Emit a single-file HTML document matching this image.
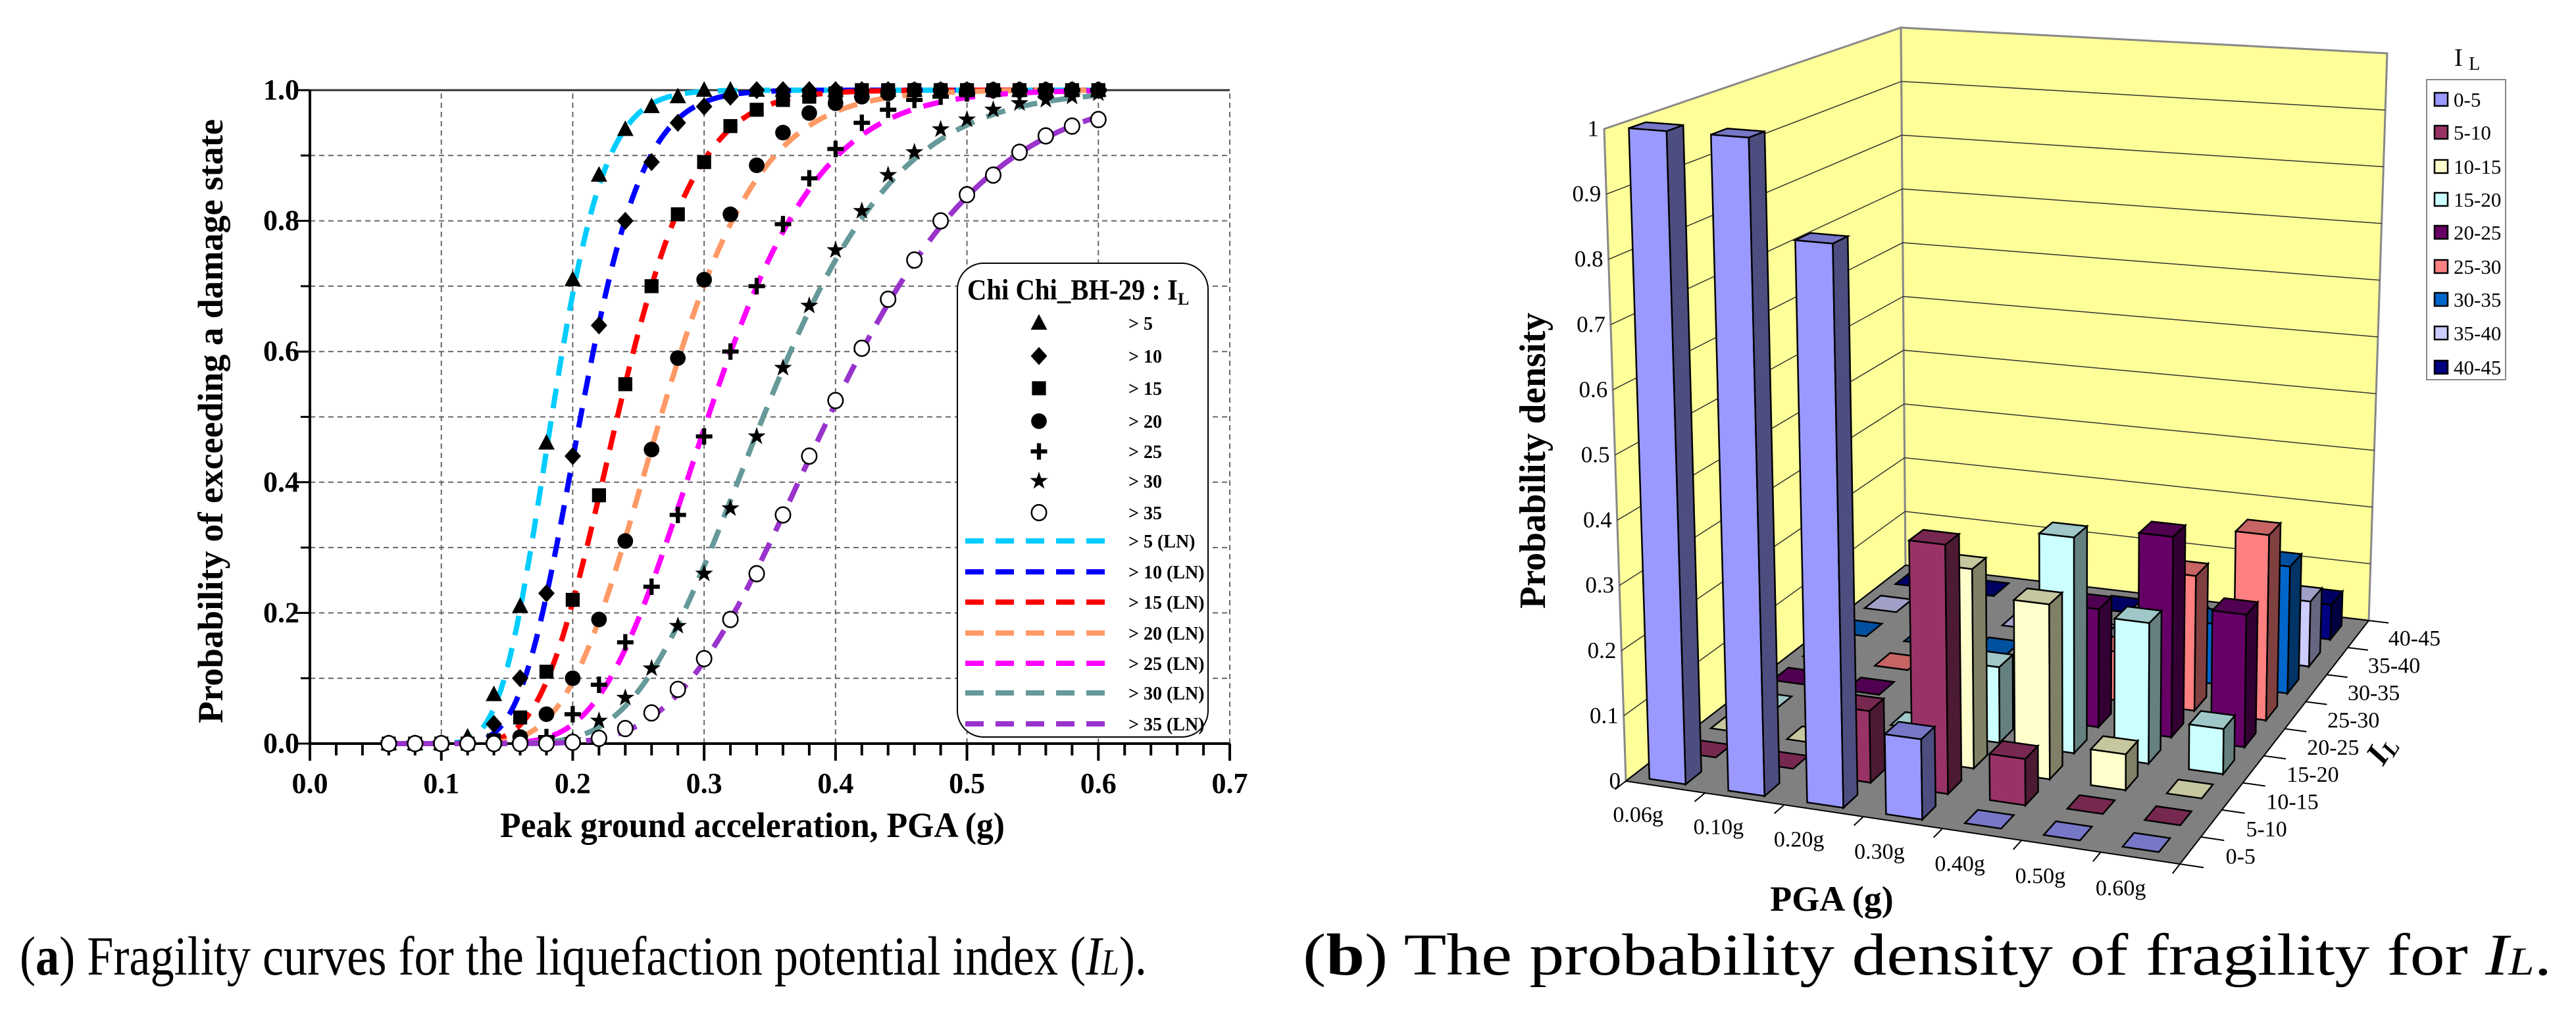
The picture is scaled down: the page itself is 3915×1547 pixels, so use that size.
<!DOCTYPE html>
<html><head><meta charset="utf-8"><style>
html,body{margin:0;padding:0;background:#fff;}
svg{display:block;}
text{font-family:"Liberation Serif",serif;}
</style></head>
<body>
<svg id="fig" width="3915" height="1547" viewBox="0 0 3915 1547" xmlns="http://www.w3.org/2000/svg">
  <g id="left"></g>
  <g id="right"></g>
  <text x="30" y="1481" font-size="84" textLength="1713" lengthAdjust="spacingAndGlyphs">(<tspan font-weight="bold">a</tspan>) Fragility curves for the liquefaction potential index (<tspan font-style="italic">I</tspan><tspan font-style="italic" font-size="56">L</tspan>).</text>
  <text x="1980" y="1481" font-size="90" textLength="1898" lengthAdjust="spacingAndGlyphs">(<tspan font-weight="bold">b</tspan>) The probability density of fragility for <tspan font-style="italic">I</tspan><tspan font-style="italic" font-size="60">L</tspan>.</text>
</svg>
<script>
// ===== Left chart data =====
const pgaPts = [0.06,0.08,0.10,0.12,0.14,0.16,0.18,0.20,0.22,0.24,0.26,0.28,0.30,0.32,0.34,0.36,0.38,0.40,0.42,0.44,0.46,0.48,0.50,0.52,0.54,0.56,0.58,0.60];
const s5  = [0,0,0,0.01,0.075,0.21,0.46,0.71,0.87,0.94,0.975,0.99,1,1,1,1,1,1,1,1,1,1,1,1,1,1,1,1];
const s10 = [0,0,0,0,0.03,0.10,0.23,0.44,0.64,0.80,0.89,0.95,0.975,0.99,1,1,1,1,1,1,1,1,1,1,1,1,1,1];
const s15 = [0,0,0,0,0.005,0.04,0.11,0.22,0.38,0.55,0.70,0.81,0.89,0.945,0.97,0.985,0.99,0.995,1,1,1,1,1,1,1,1,1,1];
const s20 = [0,0,0,0,0,0.01,0.045,0.10,0.19,0.31,0.45,0.59,0.71,0.81,0.885,0.935,0.965,0.98,0.99,0.995,1,1,1,1,1,1,1,1];
const s25 = [0,0,0,0,0,0,0.01,0.045,0.09,0.155,0.24,0.35,0.47,0.60,0.70,0.795,0.865,0.91,0.95,0.97,0.985,0.99,0.995,1,1,1,1,1];
const s30 = [0,0,0,0,0,0,0,0.005,0.035,0.07,0.115,0.18,0.26,0.36,0.47,0.575,0.67,0.755,0.815,0.87,0.905,0.94,0.955,0.97,0.98,0.985,0.99,0.995];
const s35 = [0,0,0,0,0,0,0,0.002,0.008,0.023,0.047,0.083,0.13,0.19,0.26,0.35,0.44,0.525,0.605,0.68,0.74,0.80,0.84,0.87,0.905,0.93,0.945,0.955];
const lnMedian = [0.184,0.206,0.234,0.267,0.303,0.345,0.395];
const lnBeta   = [0.17,0.18,0.20,0.22,0.22,0.23,0.24];
const seriesNames = ['> 5','> 10','> 15','> 20','> 25','> 30','> 35'];
const xTicks = [0.0,0.1,0.2,0.3,0.4,0.5,0.6,0.7];
const yTicks = [0.0,0.2,0.4,0.6,0.8,1.0];

// ===== Right chart data =====
const pgaCats = ['0.06g','0.10g','0.20g','0.30g','0.40g','0.50g','0.60g'];
const ilCats = ['0-5','5-10','10-15','15-20','20-25','25-30','30-35','35-40','40-45'];
const d0_5   = [1.0,1.0,0.85,0.12,0,0,0];
const d5_10  = [0,0,0.11,0.38,0.07,0,0];
const d10_15 = [0,0,0,0.31,0.27,0.055,0];
const d15_20 = [0,0,0,0.12,0.34,0.22,0.07];
const d20_25 = [0,0,0,0,0.19,0.32,0.21];
const d25_30 = [0,0,0,0,0.08,0.22,0.30];
const d30_35 = [0,0,0,0,0,0.10,0.21];
const d35_40 = [0,0,0,0,0,0,0.11];
const d40_45 = [0,0,0,0,0,0,0.06];
const densTicks = [0,0.1,0.2,0.3,0.4,0.5,0.6,0.7,0.8,0.9,1];

const NS='http://www.w3.org/2000/svg';
function mk(parent,tag,attrs,txt){const e=document.createElementNS(NS,tag);for(const k in attrs)e.setAttribute(k,attrs[k]);if(txt!==undefined)e.textContent=txt;parent.appendChild(e);return e;}

// ===== Left chart =====
(function(){
const g=document.getElementById('left');
const X0=471,X1=1869,Y0=1130,Y1=137;
const px=v=>X0+v/0.7*(X1-X0);
const py=p=>Y0-p*(Y0-Y1);
for(let i=1;i<=7;i++){const l=mk(g,'line',{x1:px(i/10),x2:px(i/10),y1:Y0,y2:Y1,stroke:'#666','stroke-width':2,'stroke-dasharray':'8 6'});

}
for(let i=1;i<=10;i++){const l=mk(g,'line',{x1:X0,x2:X1,y1:py(i/10),y2:py(i/10),stroke:i==10?'#333':'#666','stroke-width':i==10?3:2,'stroke-dasharray':i==10?'none':'8 6'});

}
const ax=mk(g,'line',{x1:X0,x2:X1,y1:Y0,y2:Y0,stroke:'#000','stroke-width':4});


const ay=mk(g,'line',{x1:X0,x2:X0,y1:Y0,y2:Y1,stroke:'#000','stroke-width':4});


for(let i=0;i<=35;i++){const v=i*0.02;const major=(i%5==0);const t=mk(g,'line',{x1:px(v),x2:px(v),y1:Y0,y2:Y0+(major?26:18),stroke:'#000','stroke-width':4});

}
for(let i=0;i<=10;i++){const t=mk(g,'line',{x1:X0-(i%2==0?22:14),x2:X0,y1:py(i/10),y2:py(i/10),stroke:'#000','stroke-width':3});

}
xTicks.forEach(v=>{const t=mk(g,'text',{x:px(v),y:1205,'font-size':44,'font-weight':'bold','text-anchor':'middle'},v.toFixed(1));

});
yTicks.forEach(v=>{const t=mk(g,'text',{x:455,y:py(v)+14,'font-size':44,'font-weight':'bold','text-anchor':'end'},v.toFixed(1));

});
const xt=mk(g,'text',{x:760,y:1272,'font-size':54,'font-weight':'bold',textLength:767,lengthAdjust:'spacingAndGlyphs'},'Peak ground acceleration, PGA (g)');


const yt=mk(g,'text',{x:0,y:0,'font-size':54,'font-weight':'bold',textLength:918,lengthAdjust:'spacingAndGlyphs',transform:'translate(338,1099) rotate(-90)'},'Probability of exceeding a damage state');



const colors=['#00ccff','#0000ff','#ff0000','#ff9966','#ff00ff','#669999','#9933cc'];
function erf(x){const s=x<0?-1:1;x=Math.abs(x);const t=1/(1+0.3275911*x);const y=1-(((((1.061405429*t-1.453152027)*t)+1.421413741)*t-0.284496736)*t+0.254829592)*t*Math.exp(-x*x);return s*y;}
const Phi=z=>0.5*(1+erf(z/Math.SQRT2));
for(let s=0;s<7;s++){let d='';for(let x=0.06;x<=0.6001;x+=0.0025){const p=Phi(Math.log(x/lnMedian[s])/lnBeta[s]);d+=(d?'L':'M')+px(x).toFixed(1)+','+py(p).toFixed(1);}
const c=mk(g,'path',{d:d,fill:'none',stroke:colors[s],'stroke-width':8,'stroke-dasharray':'30 20'});

}
function marker(parent,type,x,y,r){
  switch(type){
   case 0:return mk(parent,'path',{d:`M${x},${y-r*1.1}L${x+r},${y+r*0.8}L${x-r},${y+r*0.8}Z`,fill:'#000'});
   case 1:return mk(parent,'path',{d:`M${x},${y-r*1.1}L${x+r},${y}L${x},${y+r*1.1}L${x-r},${y}Z`,fill:'#000'});
   case 2:return mk(parent,'rect',{x:x-r*0.85,y:y-r*0.85,width:r*1.7,height:r*1.7,fill:'#000'});
   case 3:return mk(parent,'ellipse',{cx:x,cy:y,rx:r*0.95,ry:r*0.95,fill:'#000'});
   case 4:return mk(parent,'path',{d:`M${x-r},${y}H${x+r}M${x},${y-r}V${y+r}`,stroke:'#000','stroke-width':r*0.5,fill:'none'});
   case 5:{let d='';for(let k=0;k<10;k++){const a=-Math.PI/2+k*Math.PI/5;const rr=k%2?r*0.45:r*1.15;d+=(k?'L':'M')+(x+rr*Math.cos(a)).toFixed(1)+','+(y+rr*Math.sin(a)).toFixed(1);}return mk(parent,'path',{d:d+'Z',fill:'#000'});}
   case 6:return mk(parent,'ellipse',{cx:x,cy:y,rx:r*0.9,ry:r*0.95,fill:'#fff',stroke:'#000','stroke-width':2.5});
  }
}
const allS=[s5,s10,s15,s20,s25,s30,s35];
for(let s=0;s<7;s++){allS[s].forEach((p,i)=>{const m=marker(g,s,px(pgaPts[i]),py(p),12.5);

});}
const lg=mk(g,'g',{});


mk(lg,'rect',{x:1455,y:400,width:381,height:720,rx:40,ry:40,fill:'#fff',stroke:'#000','stroke-width':2});
const lt=mk(lg,'text',{x:1470,y:455,'font-size':44,'font-weight':'bold'});


mk(lt,'tspan',{textLength:320,lengthAdjust:'spacingAndGlyphs'},'Chi Chi_BH-29 :  I');
mk(lt,'tspan',{'font-size':26,dy:8},'L');
const mRows=[491,541,590,640,686,731,779], lRows=[822,869,915,962,1008,1053,1100];
for(let s=0;s<7;s++){const m=marker(lg,s,1579,mRows[s],12.5);


const t=mk(lg,'text',{x:1715,y:mRows[s]+10,'font-size':28,'font-weight':'bold'},seriesNames[s]);


const l=mk(lg,'line',{x1:1467,x2:1685,y1:lRows[s],y2:lRows[s],stroke:colors[s],'stroke-width':8,'stroke-dasharray':'28 18'});


const t2=mk(lg,'text',{x:1715,y:lRows[s]+10,'font-size':28,'font-weight':'bold'},seriesNames[s]+' (LN)');

}
})();

// ===== Right chart =====
(function(){
const g=document.getElementById('right');
const FL=[2471,1187],FR=[3313,1313],BL=[2896,859],BR=[3600,943];
const TFL=[2438,196],TFR=[3315,265],TBL=[2889,42],TBR=[3628,81];
const NX=7,NZ=9;
function bil(A,B,C,D,u,v){return [(1-u)*(1-v)*A[0]+u*(1-v)*B[0]+(1-u)*v*C[0]+u*v*D[0],(1-u)*(1-v)*A[1]+u*(1-v)*B[1]+(1-u)*v*C[1]+u*v*D[1]];}
function P(x,z,h){const u=x/NX,v=z/NZ;const b=bil(FL,FR,BL,BR,u,v),t=bil(TFL,TFR,TBL,TBR,u,v);return [b[0]+h*(t[0]-b[0]),b[1]+h*(t[1]-b[1])];}
const pts=a=>a.map(p=>p[0].toFixed(1)+','+p[1].toFixed(1)).join(' ');
const lw=mk(g,'polygon',{points:pts([P(0,0,0),P(0,NZ,0),P(0,NZ,1),P(0,0,1)]),fill:'#ffff99',stroke:'#888','stroke-width':3});


const bw=mk(g,'polygon',{points:pts([P(0,NZ,0),P(NX,NZ,0),P(NX,NZ,1),P(0,NZ,1)]),fill:'#ffff99',stroke:'#888','stroke-width':3});


densTicks.forEach(v=>{if(v>0&&v<1){const a=P(0,0,v),b=P(0,NZ,v),c=P(NX,NZ,v);
const l=mk(g,'polyline',{points:pts([a,b,c]),fill:'none',stroke:'#333','stroke-width':1.5});

}
const p=P(0,0,v);const t=mk(g,'text',{x:p[0]-8,y:p[1]+11,'font-size':35,'text-anchor':'end'},String(v));

});
const fl=mk(g,'polygon',{points:pts([FL,FR,BR,BL]),fill:'#808080',stroke:'#000','stroke-width':2});


for(let i=0;i<=NX;i++){const a=P(i,0,0),b=P(i,-0.35,0);const l=mk(g,'line',{x1:a[0],y1:a[1],x2:b[0],y2:b[1],stroke:'#000','stroke-width':2});

}
for(let k=0;k<=NZ;k++){const a=P(NX,k,0),b=P(NX+0.3,k,0);const l=mk(g,'line',{x1:a[0],y1:a[1],x2:b[0],y2:b[1],stroke:'#000','stroke-width':2});

}
const base=['#9999ff','#993366','#ffffcc','#ccffff','#660066','#ff8080','#0066cc','#ccccff','#000080'];
const shade=(c,f)=>{const n=parseInt(c.slice(1),16);const r=Math.round((n>>16)*f),gg=Math.round(((n>>8)&255)*f),b=Math.round((n&255)*f);return `rgb(${r},${gg},${b})`;};
const dens=[d0_5,d5_10,d10_15,d15_20,d20_25,d25_30,d30_35,d35_40,d40_45];
for(let k=NZ-1;k>=0;k--){for(let i=0;i<NX;i++){
  const h=dens[k][i];const x0=i+0.22,x1=i+0.68,z0=k+0.2,z1=k+0.72;
  const grp=mk(g,'g',{});
  
  
  const hh=Math.max(h,0.004);
  if(h>0){
   mk(grp,'polygon',{points:pts([P(x0,z0,0),P(x1,z0,0),P(x1,z0,hh),P(x0,z0,hh)]),fill:base[k],stroke:'#000','stroke-width':2.5});
   mk(grp,'polygon',{points:pts([P(x1,z0,0),P(x1,z1,0),P(x1,z1,hh),P(x1,z0,hh)]),fill:shade(base[k],0.5),stroke:'#000','stroke-width':2.5});
  }
  mk(grp,'polygon',{points:pts([P(x0,z0,hh),P(x1,z0,hh),P(x1,z1,hh),P(x0,z1,hh)]),fill:shade(base[k],0.78),stroke:'#000','stroke-width':2.5});
}}
pgaCats.forEach((c,i)=>{const p=P(i+0.5,-0.9,0);const t=mk(g,'text',{x:p[0],y:p[1]+20,'font-size':34,'text-anchor':'middle'},c);

});
ilCats.forEach((c,k)=>{const p=P(NX+0.45,k+0.5,0);const t=mk(g,'text',{x:p[0],y:p[1]+12,'font-size':34},c);

});
const xt=mk(g,'text',{x:2784,y:1384,'font-size':54,'font-weight':'bold','text-anchor':'middle'},'PGA (g)');


const yt=mk(g,'text',{x:0,y:0,'font-size':56,'font-weight':'bold',textLength:450,lengthAdjust:'spacingAndGlyphs',transform:'translate(2348,925) rotate(-90)'},'Probability density');


const it=mk(g,'text',{x:0,y:0,'font-size':50,'font-weight':'bold','font-style':'italic',transform:'translate(3622,1165) rotate(-58)'},'I');


mk(it,'tspan',{'font-size':34,dy:6},'L');
const lg=mk(g,'g',{});


const ttl=mk(lg,'text',{x:3730,y:100,'font-size':38},'I ');


mk(ttl,'tspan',{'font-size':28,dy:6},'L');
mk(lg,'rect',{x:3688,y:121,width:120,height:456,fill:'#fff',stroke:'#888','stroke-width':2});
const rows=[151,201,253,303,353,405,455,506,558];
ilCats.forEach((c,k)=>{const r=mk(lg,'rect',{x:3700,y:rows[k]-10,width:20,height:20,fill:base[k],stroke:'#000','stroke-width':2.5});


const t=mk(lg,'text',{x:3729,y:rows[k]+11,'font-size':31},c);

});
})();
</script>
</body></html>
